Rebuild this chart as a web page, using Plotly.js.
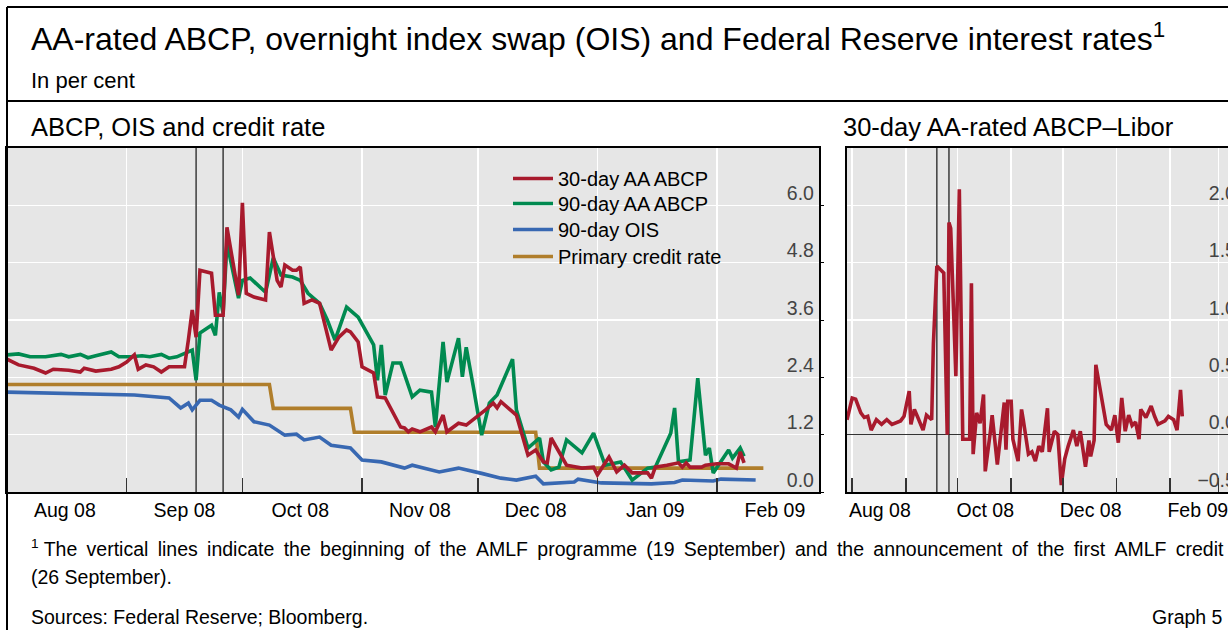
<!DOCTYPE html>
<html><head><meta charset="utf-8">
<script src="https://cdn.plot.ly/plotly-3.0.1.min.js"></script>
<style>
html,body{margin:0;padding:0;overflow:hidden;background:#fff;width:1228px;height:630px}
#chart{width:1250px;height:630px}
</style></head>
<body><div id="chart"></div>
<script>
// ---------------- DATA ----------------
const abcp30Dates = ['2008-08-01','2008-08-04','2008-08-08','2008-08-11','2008-08-13','2008-08-17','2008-08-20','2008-08-21','2008-08-24','2008-08-28','2008-08-30',
 '2008-09-01','2008-09-03','2008-09-04','2008-09-06','2008-09-08','2008-09-10','2008-09-12','2008-09-14','2008-09-16','2008-09-17','2008-09-18','2008-09-19','2008-09-20','2008-09-23','2008-09-24','2008-09-26','2008-09-27','2008-09-30',
 '2008-10-01','2008-10-02','2008-10-04','2008-10-07','2008-10-08','2008-10-10','2008-10-11','2008-10-12','2008-10-14','2008-10-15','2008-10-16','2008-10-17','2008-10-19','2008-10-21','2008-10-24','2008-10-26','2008-10-28','2008-10-29','2008-10-31',
 '2008-11-01','2008-11-04','2008-11-05','2008-11-07','2008-11-11','2008-11-12','2008-11-13','2008-11-14','2008-11-16','2008-11-19','2008-11-20','2008-11-22','2008-11-23','2008-11-26','2008-11-28',
 '2008-12-01','2008-12-03','2008-12-05','2008-12-06','2008-12-07','2008-12-10','2008-12-11','2008-12-14','2008-12-16','2008-12-18','2008-12-19','2008-12-20','2008-12-22','2008-12-24','2008-12-28','2008-12-31',
 '2009-01-01','2009-01-04','2009-01-06','2009-01-08','2009-01-10','2009-01-14','2009-01-15','2009-01-16','2009-01-19','2009-01-22','2009-01-23','2009-01-24','2009-01-25','2009-01-28','2009-01-29',
 '2009-02-01','2009-02-04','2009-02-06','2009-02-07','2009-02-08'];
const abcp30Values = [2.78,2.66,2.59,2.49,2.57,2.55,2.51,2.59,2.53,2.57,2.62,
 2.72,2.87,2.57,2.66,2.62,2.51,2.62,2.62,2.62,3.18,3.81,3.24,4.64,4.58,3.70,3.70,5.54,4.12,
 6.05,4.16,4.08,4.02,5.44,4.43,4.29,4.75,4.64,4.64,4.71,3.95,4.02,3.95,2.97,3.24,3.39,3.35,3.14,
 2.62,2.49,1.99,1.97,1.36,1.34,1.26,1.32,1.26,1.36,1.26,1.61,1.26,1.44,1.40,
 1.58,1.72,1.86,1.76,1.89,1.67,1.61,0.77,0.88,0.63,0.61,1.13,0.84,0.56,0.50,0.52,
 0.36,0.73,0.42,0.56,0.40,0.40,0.29,0.52,0.56,0.61,0.52,0.61,0.52,0.52,0.56,
 0.59,0.59,0.50,0.84,0.61];

const abcp90Dates = ['2008-08-01','2008-08-04','2008-08-07','2008-08-11','2008-08-15','2008-08-17','2008-08-20','2008-08-22','2008-08-24','2008-08-28','2008-08-30',
 '2008-09-02','2008-09-05','2008-09-07','2008-09-10','2008-09-12','2008-09-14','2008-09-16','2008-09-18','2008-09-19','2008-09-20','2008-09-23','2008-09-24','2008-09-25','2008-09-26','2008-09-27','2008-09-30',
 '2008-10-01','2008-10-03','2008-10-07','2008-10-09','2008-10-11','2008-10-14','2008-10-16','2008-10-18','2008-10-21','2008-10-23','2008-10-25','2008-10-28','2008-10-31',
 '2008-11-03','2008-11-04','2008-11-05','2008-11-06','2008-11-07','2008-11-09','2008-11-11','2008-11-14','2008-11-16','2008-11-19','2008-11-20','2008-11-22','2008-11-23','2008-11-26','2008-11-27','2008-11-28','2008-11-30',
 '2008-12-02','2008-12-04','2008-12-06','2008-12-10','2008-12-11','2008-12-14','2008-12-17','2008-12-18','2008-12-20','2008-12-22','2008-12-24','2008-12-28','2008-12-31',
 '2009-01-03','2009-01-07','2009-01-10','2009-01-14','2009-01-16','2009-01-20','2009-01-21','2009-01-22','2009-01-25','2009-01-27','2009-01-29','2009-01-30','2009-01-31',
 '2009-02-04','2009-02-05','2009-02-07','2009-02-08'];
const abcp90Values = [2.87,2.89,2.83,2.83,2.88,2.83,2.88,2.81,2.85,2.93,2.83,
 2.83,2.85,2.83,2.88,2.80,2.83,2.91,2.97,2.34,3.33,3.49,3.28,4.18,3.74,5.21,4.06,
 4.43,4.48,4.18,4.90,4.54,4.50,4.43,4.16,3.95,3.60,3.18,3.87,3.66,
 3.24,3.08,2.34,3.08,2.03,2.70,2.70,1.99,2.13,2.09,1.36,3.14,2.30,3.22,2.41,3.03,2.13,
 1.19,1.86,2.03,2.78,1.72,0.92,1.13,0.63,0.46,0.52,1.09,0.82,1.23,
 0.56,0.63,0.25,0.50,0.52,1.23,1.76,0.63,0.67,2.38,0.77,0.92,0.40,
 0.88,0.71,0.92,0.75];

const oisDates = ['2008-08-01','2008-08-15','2008-09-03','2008-09-12','2008-09-15','2008-09-17','2008-09-18','2008-09-20','2008-09-23','2008-09-25','2008-09-28','2008-09-30',
 '2008-10-01','2008-10-04','2008-10-08','2008-10-12','2008-10-15','2008-10-17','2008-10-21','2008-10-24','2008-10-29',
 '2008-11-01','2008-11-06','2008-11-12','2008-11-14','2008-11-21','2008-11-26',
 '2008-12-02','2008-12-07','2008-12-11','2008-12-16','2008-12-18','2008-12-26','2008-12-27',
 '2009-01-02','2009-01-15','2009-01-21','2009-01-23','2009-01-31','2009-02-02','2009-02-11'];
const oisValues = [2.09,2.06,2.03,1.97,1.76,1.86,1.72,1.92,1.92,1.82,1.72,1.57,
 1.73,1.47,1.40,1.19,1.21,1.09,1.15,0.98,0.92,
 0.67,0.63,0.50,0.56,0.42,0.50,
 0.39,0.29,0.25,0.33,0.17,0.21,0.27,
 0.19,0.17,0.20,0.25,0.23,0.27,0.25];

const creditDates = ['2008-08-01','2008-10-08','2008-10-09','2008-10-29','2008-10-30','2008-12-16','2008-12-17','2009-02-13'];
const creditValues = [2.25,2.25,1.75,1.75,1.25,1.25,0.50,0.50];

const spreadDates = ['2008-07-29','2008-08-01','2008-08-03','2008-08-06','2008-08-08','2008-08-10','2008-08-12','2008-08-15','2008-08-18','2008-08-21','2008-08-24','2008-08-29','2008-08-31',
 '2008-09-03','2008-09-04','2008-09-06','2008-09-08','2008-09-11','2008-09-13','2008-09-16','2008-09-17','2008-09-19','2008-09-21','2008-09-23','2008-09-25','2008-09-26','2008-09-27','2008-09-29','2008-09-30',
 '2008-10-02','2008-10-04','2008-10-05','2008-10-08','2008-10-09','2008-10-10','2008-10-12','2008-10-14','2008-10-16','2008-10-17','2008-10-20','2008-10-21','2008-10-24','2008-10-26','2008-10-28','2008-10-29','2008-10-30',
 '2008-11-01','2008-11-02','2008-11-05','2008-11-07','2008-11-08','2008-11-11','2008-11-13','2008-11-15','2008-11-17','2008-11-19','2008-11-22','2008-11-23','2008-11-26','2008-11-28','2008-11-30',
 '2008-12-02','2008-12-04','2008-12-07','2008-12-09','2008-12-11','2008-12-14','2008-12-16','2008-12-17','2008-12-19','2008-12-20','2008-12-23','2008-12-26','2008-12-29','2008-12-31',
 '2009-01-02','2009-01-04','2009-01-06','2009-01-08','2009-01-10','2009-01-12','2009-01-14','2009-01-15','2009-01-18','2009-01-21','2009-01-23','2009-01-25','2009-01-29','2009-01-31',
 '2009-02-03','2009-02-05','2009-02-07','2009-02-08'];
const spreadValues = [0.13,0.32,0.31,0.19,0.15,0.16,0.04,0.13,0.09,0.13,0.09,0.12,0.16,
 0.38,0.09,0.22,0.15,0.04,0.17,0.13,0.79,1.47,1.44,1.41,0.00,1.85,1.80,0.90,0.51,
 2.14,-0.04,-0.04,-0.04,1.32,-0.17,0.19,0.10,0.35,-0.32,0.03,0.17,-0.26,0.03,0.28,-0.13,0.29,
 0.29,-0.04,-0.23,0.22,0.13,-0.17,-0.15,-0.23,-0.10,-0.15,0.23,-0.15,0.03,0.00,-0.44,
 -0.21,-0.10,0.04,-0.10,0.03,-0.28,-0.05,-0.19,-0.05,0.61,0.33,0.09,0.04,0.17,
 -0.07,0.32,0.03,0.17,0.08,0.11,-0.04,0.22,0.15,0.25,0.16,0.09,0.12,0.16,
 0.13,0.04,0.39,0.16];

const amlfDates = ['2008-09-19','2008-09-26'];

const seriesNames = ['30-day AA ABCP','90-day AA ABCP','90-day OIS','Primary credit rate'];
const leftMonthStarts = ['2008-09-01','2008-10-01','2008-11-01','2008-12-01','2009-01-01','2009-02-01'];
const leftLabelDates = ['2008-08-16','2008-09-16','2008-10-16','2008-11-16','2008-12-16','2009-01-16','2009-02-16'];
const leftLabels = ['Aug 08','Sep 08','Oct 08','Nov 08','Dec 08','Jan 09','Feb 09'];
const rightMonthStarts = ['2008-08-01','2008-09-01','2008-10-01','2008-11-01','2008-12-01','2009-01-01','2009-02-01','2009-03-01'];
const rightLabelDates = ['2008-08-17','2008-10-17','2008-12-17','2009-02-17'];
const rightLabels = ['Aug 08','Oct 08','Dec 08','Feb 09'];
const leftTicks = [0,1.2,2.4,3.6,4.8,6.0];
const rightTicks = [-0.5,0,0.5,1.0,1.5,2.0];
const leftRange = [0, 7.2];
const rightRange = [-0.5, 2.5];

// ---------------- LAYOUT ----------------
const W = 1250, H = 630;
const px = x => x / W;
const py = y => 1 - y / H;
const FONT = 'Liberation Sans, Arial, sans-serif';
const RED = '#a81a2d', GREEN = '#008a50', BLUE = '#3868b2', GOLD = '#b07e2b';

const traces = [
  {x: creditDates, y: creditValues, name: seriesNames[3], legend: 'legend4', mode: 'lines', line: {color: GOLD, width: 3.6}, xaxis: 'x', yaxis: 'y'},
  {x: oisDates, y: oisValues, name: seriesNames[2], legend: 'legend3', mode: 'lines', line: {color: BLUE, width: 3.6}, xaxis: 'x', yaxis: 'y'},
  {x: abcp90Dates, y: abcp90Values, name: seriesNames[1], legend: 'legend2', mode: 'lines', line: {color: GREEN, width: 3.6}, xaxis: 'x', yaxis: 'y'},
  {x: abcp30Dates, y: abcp30Values, name: seriesNames[0], legend: 'legend', mode: 'lines', line: {color: RED, width: 3.6}, xaxis: 'x', yaxis: 'y'},
  {x: spreadDates, y: spreadValues, name: '30-day AA-rated ABCP–Libor', showlegend: false, mode: 'lines', line: {color: RED, width: 3.6}, xaxis: 'x2', yaxis: 'y2'}
];

function xAxis(domain, range, labelDates, labels, starts, anchor) {
  return {
    domain: domain, type: 'date', range: range, anchor: anchor,
    tickmode: 'array', tickvals: labelDates, ticktext: labels, ticks: '', showgrid: false,
    tickfont: {size: 19.5}, zeroline: false, ticklabeloverflow: 'allow',
    showline: true, mirror: true, linecolor: '#000', linewidth: 2,
    minor: {tickmode: 'array', tickvals: starts, ticks: 'inside', ticklen: 14, tickwidth: 1.5, tickcolor: '#333',
            showgrid: true, gridcolor: '#ffffff', gridwidth: 1.5}
  };
}
function yAxis(domain, range, ticks, anchor) {
  return {
    domain: domain, range: range, anchor: anchor, side: 'right',
    tickmode: 'array', tickvals: ticks, tickformat: '.1f',
    ticklabelposition: 'inside', ticklabelshift: -12, ticklabelstandoff: 6, ticklabeloverflow: 'allow',
    ticks: 'outside', ticklen: 3, tickcolor: '#000', tickwidth: 1,
    tickfont: {size: 19.5},
    showgrid: true, gridcolor: '#ffffff', gridwidth: 1.5,
    showline: true, mirror: true, linecolor: '#000', linewidth: 2
  };
}

const shapes = [
  {type: 'line', xref: 'paper', yref: 'paper', x0: px(7), x1: 1, y0: py(7), y1: py(7), line: {color: '#000', width: 2}},
  {type: 'line', xref: 'paper', yref: 'paper', x0: px(7), x1: px(7), y0: py(7), y1: 0, line: {color: '#000', width: 2}},
  {type: 'line', xref: 'paper', yref: 'paper', x0: px(7), x1: 1, y0: py(101), y1: py(101), line: {color: '#000', width: 2}}
];
amlfDates.forEach(d => {
  shapes.push({type: 'line', layer: 'between', xref: 'x', yref: 'y', x0: d, x1: d, y0: leftRange[0], y1: leftRange[1], line: {color: '#222', width: 1.3}});
  shapes.push({type: 'line', layer: 'between', xref: 'x2', yref: 'y2', x0: d, x1: d, y0: rightRange[0], y1: rightRange[1], line: {color: '#222', width: 1.3}});
});

const ann = (text, x, y, size, anchor) => ({text: text, xref: 'paper', yref: 'paper', x: px(x), y: py(y),
  xanchor: anchor || 'left', yanchor: 'middle', showarrow: false, font: {size: size, family: FONT, color: '#000'}});

const T = ' \u2009';
const footWords = ['The','vertical','lines','indicate','the','beginning','of','the','AMLF','programme','(19','September)','and','the','announcement','of','the','first','AMLF','credit'];

const annotations = [
  ann('AA-rated ABCP, overnight index swap (OIS) and Federal Reserve interest rates<sup>1</sup>', 29, 37, 32),
  ann('In per cent', 29, 80, 22),
  ann('ABCP, OIS and credit rate', 29, 127, 25.5),
  ann('30-day AA-rated ABCP–Libor', 841, 127, 25.5),
  ann('<sup>1</sup> ' + footWords.join(T), 29, 548, 19.5),
  ann('(26 September).', 29, 577, 19.5),
  ann('Sources: Federal Reserve; Bloomberg.', 29, 617, 19.5),
  ann('Graph 5', 1225, 617, 19.5, 'right')
];

const legendBase = {x: px(508), xanchor: 'left', yanchor: 'top', bgcolor: 'rgba(0,0,0,0)',
  font: {size: 20, family: FONT, color: '#000'}, itemwidth: 40, tracegroupgap: 0};
const legendRows = [159, 184, 210, 237];

const layout = {
  width: W, height: H, margin: {l: 0, r: 0, t: 0, b: 0},
  paper_bgcolor: '#ffffff', plot_bgcolor: '#e6e6e6',
  font: {family: FONT, size: 19.5, color: '#000'},
  showlegend: true,
  legend: Object.assign({}, legendBase, {y: py(legendRows[0])}),
  legend2: Object.assign({}, legendBase, {y: py(legendRows[1])}),
  legend3: Object.assign({}, legendBase, {y: py(legendRows[2])}),
  legend4: Object.assign({}, legendBase, {y: py(legendRows[3])}),
  xaxis: xAxis([px(7), px(819)], ['2008-08-01', '2009-02-27 10:00'], leftLabelDates, leftLabels, leftMonthStarts, 'y'),
  yaxis: yAxis([py(492), py(148)], leftRange, leftTicks, 'x'),
  xaxis2: xAxis([px(847), px(1241)], ['2008-07-29', '2009-03-14'], rightLabelDates, rightLabels, rightMonthStarts, 'y2'),
  yaxis2: Object.assign(yAxis([py(492), py(148)], rightRange, rightTicks, 'x2'),
                        {zeroline: true, zerolinecolor: '#333', zerolinewidth: 1.5}),
  shapes: shapes,
  annotations: annotations
};

Plotly.newPlot('chart', traces, layout, {displayModeBar: false, staticPlot: true});
</script>
</body></html>
